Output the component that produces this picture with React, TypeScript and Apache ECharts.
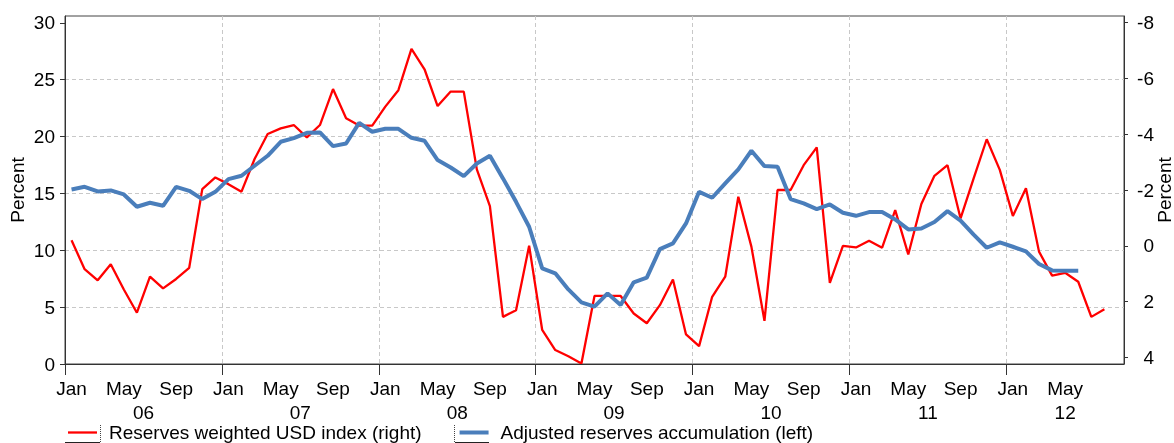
import React, { useEffect, useRef } from 'react';
import * as echarts from 'echarts';

const MONTH_NAMES = ['Jan', 'Feb', 'Mar', 'Apr', 'May', 'Jun', 'Jul', 'Aug', 'Sep', 'Oct', 'Nov', 'Dec'];
const YEARS = ['06', '07', '08', '09', '10', '11', '12'];
const MONTHS_PER_YEAR = [12, 12, 12, 12, 12, 12, 9];

const categories: string[] = [];
YEARS.forEach((y, k) => {
  for (let m = 0; m < MONTHS_PER_YEAR[k]; m++) categories.push(`${MONTH_NAMES[m]} ${y}`);
});

// Reserves weighted USD index (right axis, inverted), Jan 06 - Aug 12
const usdIndexRight = [
  -0.2, 0.84, 1.24, 0.66, 1.57, 2.4, 1.11, 1.53, 1.19, 0.79, -2.03, -2.45,
  -2.21, -1.94, -3.11, -4.01, -4.21, -4.33, -3.89, -4.33, -5.62, -4.57, -4.31, -4.31,
  -4.99, -5.58, -7.06, -6.33, -5.01, -5.53, -5.53, -2.74, -1.42, 2.55, 2.31, 0.0,
  3.02, 3.74, 3.96, 4.22, 1.8, 1.8, 1.8, 2.43, 2.78, 2.13, 1.21, 3.18,
  3.6, 1.83, 1.11, -1.76, 0.03, 2.69, -2.0, -2.0, -2.89, -3.53, 1.33, 0.0,
  0.06, -0.18, 0.07, -1.28, 0.31, -1.5, -2.51, -2.89, -0.98, -2.42, -3.82, -2.72,
  -1.07, -2.06, 0.21, 1.07, 0.97, 1.29, 2.55, 2.28,
];

// Adjusted reserves accumulation (left axis), Jan 06 - Jun 12
const reservesLeft = [
  15.35, 15.58, 15.17, 15.26, 14.91, 13.83, 14.18, 13.91, 15.58, 15.23, 14.5, 15.14,
  16.26, 16.55, 17.43, 18.31, 19.54, 19.86, 20.33, 20.36, 19.16, 19.39, 21.2, 20.42,
  20.68, 20.68, 19.89, 19.63, 17.93, 17.28, 16.52, 17.63, 18.31, 16.32, 14.26, 12.07,
  8.41, 7.97, 6.56, 5.42, 5.04, 6.21, 5.18, 7.18, 7.59, 10.1, 10.6, 12.36,
  15.14, 14.62, 15.88, 17.11, 18.75, 17.4, 17.34, 14.5, 14.12, 13.62, 14.03, 13.3,
  13.03, 13.36, 13.36, 12.71, 11.83, 11.92, 12.48, 13.44, 12.6, 11.37, 10.22, 10.69,
  10.31, 9.9, 8.79, 8.23, 8.2, 8.2,
];

const leftTicks = [0, 5, 10, 15, 20, 25, 30];
const leftGrid = [5, 10, 15, 20, 25];
const rightTicks = [-8, -6, -4, -2, 0, 2, 4];

const SERIES_RED = 'Reserves weighted USD index (right)';
const SERIES_BLUE = 'Adjusted reserves accumulation (left)';

const FONT = '"Liberation Sans", Arial, sans-serif';
const AXIS = '#333333';
const GRIDC = '#c8c8c8';
const RED = '#ff0000';
const BLUE = '#4a7ebb';

// year boundaries and mid points (in month units from the left edge)
const yearStarts: number[] = [];
const yearMids: number[] = [];
{
  let acc = 0;
  MONTHS_PER_YEAR.forEach((n) => {
    yearStarts.push(acc);
    yearMids.push(acc + n / 2);
    acc += n;
  });
}
const totalMonths = categories.length;

export default function App() {
  const ref = useRef<HTMLDivElement>(null);
  useEffect(() => {
    if (!ref.current) return;
    const chart = echarts.init(ref.current, undefined, { renderer: 'svg' });
    const option: any = {
      animation: false,
      textStyle: { fontFamily: FONT, color: '#000' },
      grid: {
        left: 65, right: 50, top: 16, bottom: 79,
        containLabel: false, outerBoundsMode: 'none',
        show: true, borderColor: '#444', borderWidth: 1, backgroundColor: 'transparent',
      },
      legend: {
        left: 68, top: 423, padding: 0,
        itemWidth: 29, itemHeight: 14, itemGap: 38,
        textStyle: { fontSize: 19, color: '#000', fontFamily: FONT, padding: [0, 0, 0, 7] },
        data: [
          { name: SERIES_RED, icon: 'path://M0,0M0,14M0,5.85L29,5.85L29,8.15L0,8.15Z', itemStyle: { color: RED } },
          { name: SERIES_BLUE, icon: 'path://M0,0M0,14M0,5L29,5L29,9L0,9Z', itemStyle: { color: BLUE } },
        ],
      },
      xAxis: [
        {
          type: 'category', data: categories, boundaryGap: true, position: 'bottom',
          axisLine: { onZero: false, lineStyle: { color: AXIS, width: 1 } },
          axisTick: { alignWithLabel: true, interval: (i: number) => i % 4 === 0, length: 6, lineStyle: { color: AXIS } },
          axisLabel: {
            interval: (i: number) => i % 4 === 0 && i < totalMonths - 1,
            formatter: (v: string) => v.split(' ')[0],
            fontSize: 19, color: '#000', margin: 15, fontFamily: FONT,
          },
          splitLine: { show: false },
          z: 3,
        },
        {
          type: 'value', min: 0, max: totalMonths, position: 'bottom',
          axisLine: { show: false, onZero: false },
          axisTick: { show: true, customValues: yearStarts, length: 11, lineStyle: { color: AXIS } },
          axisLabel: {
            customValues: yearMids,
            formatter: (v: number) => {
              const k = yearMids.findIndex((m) => Math.abs(m - v) < 1e-6);
              return k >= 0 ? YEARS[k] : '';
            },
            fontSize: 19, color: '#000', margin: 39, fontFamily: FONT,
          },
          splitLine: { show: false },
          z: 3,
        },
        {
          type: 'value', min: 0, max: totalMonths, position: 'bottom',
          axisLine: { show: false, onZero: false },
          axisTick: { show: false, customValues: yearStarts.slice(1) },
          axisLabel: { show: false },
          splitLine: { show: true, lineStyle: { color: GRIDC, type: [4, 3], width: 1 } },
          z: 0,
        },
      ],
      yAxis: [
        {
          type: 'value', position: 'left', min: 0, max: 30.6,
          axisLine: { show: true, onZero: false, lineStyle: { color: AXIS } },
          axisTick: { show: true, customValues: leftTicks, length: 5, lineStyle: { color: AXIS } },
          axisLabel: { customValues: leftTicks, fontSize: 19, margin: 10, color: '#000', fontFamily: FONT },
          splitLine: { show: false },
          name: 'Percent', nameLocation: 'middle', nameGap: 38.5, nameMoveOverlap: false,
          nameTextStyle: { fontSize: 19, color: '#000', fontFamily: FONT },
          z: 3,
        },
        {
          type: 'value', position: 'right', inverse: true, min: -8.24, max: 4.24,
          axisLine: { show: true, onZero: false, lineStyle: { color: AXIS } },
          axisTick: { show: true, customValues: rightTicks, length: 4, lineStyle: { color: AXIS } },
          axisLabel: { customValues: rightTicks, fontSize: 19, margin: 30, align: 'right', color: '#000', fontFamily: FONT },
          splitLine: { show: false },
          name: 'Percent', nameLocation: 'middle', nameGap: 31, nameMoveOverlap: false,
          nameTextStyle: { fontSize: 19, color: '#000', fontFamily: FONT },
          z: 3,
        },
        {
          type: 'value', position: 'left', min: 0, max: 30.6,
          axisLine: { show: false, onZero: false },
          axisTick: { show: false, customValues: leftGrid },
          axisLabel: { show: false },
          splitLine: { show: true, lineStyle: { color: GRIDC, type: [4, 3], width: 1 } },
          z: 0,
        },
      ],
      series: [
        {
          type: 'line', name: SERIES_RED, data: usdIndexRight,
          xAxisIndex: 0, yAxisIndex: 1, symbol: 'none', showSymbol: false,
          lineStyle: { color: RED, width: 2.3 }, itemStyle: { color: RED },
          z: 2,
        },
        {
          type: 'line', name: SERIES_BLUE, data: reservesLeft,
          xAxisIndex: 0, yAxisIndex: 0, symbol: 'none', showSymbol: false,
          lineStyle: { color: BLUE, width: 4 }, itemStyle: { color: BLUE },
          z: 2,
        },
      ],
      graphic: [
        { type: 'line', shape: { x1: 65, y1: 442.5, x2: 100, y2: 442.5 }, style: { stroke: '#222', lineWidth: 1 } },
        { type: 'line', shape: { x1: 100.5, y1: 425, x2: 100.5, y2: 442.5 }, style: { stroke: '#444', lineWidth: 1, lineDash: [1, 1] } },
        { type: 'line', shape: { x1: 455, y1: 442.5, x2: 489, y2: 442.5 }, style: { stroke: '#222', lineWidth: 1 } },
        { type: 'line', shape: { x1: 454.5, y1: 425, x2: 454.5, y2: 442.5 }, style: { stroke: '#444', lineWidth: 1, lineDash: [1, 1] } },
      ],
    };
    chart.setOption(option);
    return () => chart.dispose();
  }, []);
  return <div ref={ref} style={{ position: 'fixed', left: 0, top: 0, width: 1174, height: 443 }} />;
}
